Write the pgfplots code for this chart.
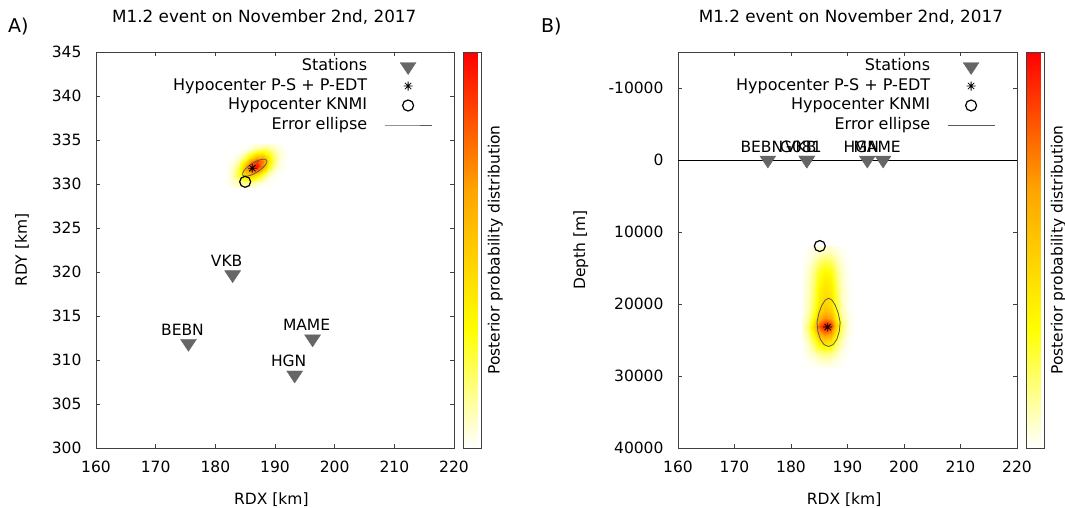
\documentclass[border=0pt]{standalone}
\usepackage{fontspec}
\setmainfont{DejaVu Sans}
\usepackage{pgfplots}
\usepackage{pgfplotstable}
\pgfplotsset{compat=1.18}

\newcommand\fs{\fontsize{15.5pt}{18pt}\selectfont}

% eight-armed asterisk for the hypocentre
\pgfdeclareplotmark{ast8}{%
  \pgfpathmoveto{\pgfqpoint{-\pgfplotmarksize}{0pt}}\pgfpathlineto{\pgfqpoint{\pgfplotmarksize}{0pt}}%
  \pgfpathmoveto{\pgfqpoint{0pt}{-\pgfplotmarksize}}\pgfpathlineto{\pgfqpoint{0pt}{\pgfplotmarksize}}%
  \pgfpathmoveto{\pgfqpoint{-.707\pgfplotmarksize}{-.707\pgfplotmarksize}}\pgfpathlineto{\pgfqpoint{.707\pgfplotmarksize}{.707\pgfplotmarksize}}%
  \pgfpathmoveto{\pgfqpoint{-.707\pgfplotmarksize}{.707\pgfplotmarksize}}\pgfpathlineto{\pgfqpoint{.707\pgfplotmarksize}{-.707\pgfplotmarksize}}%
  \pgfusepathqstroke}

% posterior probability, map view (RDX, RDY, density)
\pgfplotstableread[row sep=\\]{
x y z\\
182 329.6 0.01\\183 329.6 0.02\\184 329.6 0.04\\185 329.6 0.04\\186 329.6 0.03\\187 329.6 0.01\\188 329.6 0\\189 329.6 0\\190 329.6 0\\191 329.6 0\\192 329.6 0\\
182 330.1 0.01\\183 330.1 0.05\\184 330.1 0.10\\185 330.1 0.13\\186 330.1 0.12\\187 330.1 0.06\\188 330.1 0.02\\189 330.1 0.01\\190 330.1 0\\191 330.1 0\\192 330.1 0\\
182 330.6 0.02\\183 330.6 0.07\\184 330.6 0.19\\185 330.6 0.30\\186 330.6 0.31\\187 330.6 0.20\\188 330.6 0.09\\189 330.6 0.02\\190 330.6 0\\191 330.6 0\\192 330.6 0\\
182 331.1 0.02\\183 331.1 0.09\\184 331.1 0.26\\185 331.1 0.49\\186 331.1 0.60\\187 331.1 0.47\\188 331.1 0.23\\189 331.1 0.07\\190 331.1 0.02\\191 331.1 0\\192 331.1 0\\
182 331.6 0.01\\183 331.6 0.07\\184 331.6 0.26\\185 331.6 0.59\\186 331.6 0.86\\187 331.6 0.80\\188 331.6 0.47\\189 331.6 0.18\\190 331.6 0.04\\191 331.6 0.01\\192 331.6 0\\
182 332.1 0.01\\183 332.1 0.05\\184 332.1 0.19\\185 332.1 0.52\\186 332.1 0.90\\187 332.1 0.98\\188 332.1 0.68\\189 332.1 0.30\\190 332.1 0.09\\191 332.1 0.02\\192 332.1 0\\
182 332.6 0\\183 332.6 0.02\\184 332.6 0.10\\185 332.6 0.33\\186 332.6 0.68\\187 332.6 0.88\\188 332.6 0.73\\189 332.6 0.38\\190 332.6 0.13\\191 332.6 0.03\\192 332.6 0\\
182 333.1 0\\183 333.1 0.01\\184 333.1 0.04\\185 333.1 0.16\\186 333.1 0.38\\187 333.1 0.58\\188 333.1 0.57\\189 333.1 0.35\\190 333.1 0.14\\191 333.1 0.04\\192 333.1 0.01\\
182 333.6 0\\183 333.6 0\\184 333.6 0.01\\185 333.6 0.05\\186 333.6 0.15\\187 333.6 0.28\\188 333.6 0.32\\189 333.6 0.24\\190 333.6 0.11\\191 333.6 0.03\\192 333.6 0.01\\
182 334.1 0\\183 334.1 0\\184 334.1 0\\185 334.1 0.01\\186 334.1 0.04\\187 334.1 0.10\\188 334.1 0.13\\189 334.1 0.12\\190 334.1 0.07\\191 334.1 0.02\\192 334.1 0.01\\
182 334.6 0\\183 334.6 0\\184 334.6 0\\185 334.6 0\\186 334.6 0.01\\187 334.6 0.02\\188 334.6 0.04\\189 334.6 0.04\\190 334.6 0.03\\191 334.6 0.01\\192 334.6 0\\
}\mappdf

% posterior probability, depth section (RDX, depth, density)
\pgfplotstableread[row sep=\\]{
x y z\\
182 12000 0\\183 12000 0.01\\184 12000 0.02\\185 12000 0.04\\186 12000 0.05\\187 12000 0.05\\188 12000 0.03\\189 12000 0.01\\190 12000 0\\191 12000 0\\
182 13000 0\\183 13000 0.02\\184 13000 0.05\\185 13000 0.08\\186 13000 0.10\\187 13000 0.09\\188 13000 0.05\\189 13000 0.02\\190 13000 0\\191 13000 0\\
182 14000 0.01\\183 14000 0.03\\184 14000 0.09\\185 14000 0.16\\186 14000 0.20\\187 14000 0.18\\188 14000 0.10\\189 14000 0.03\\190 14000 0.01\\191 14000 0\\
182 15000 0.01\\183 15000 0.05\\184 15000 0.13\\185 15000 0.23\\186 15000 0.28\\187 15000 0.25\\188 15000 0.14\\189 15000 0.05\\190 15000 0.01\\191 15000 0\\
182 16000 0.01\\183 16000 0.06\\184 16000 0.16\\185 16000 0.28\\186 16000 0.34\\187 16000 0.31\\188 16000 0.17\\189 16000 0.06\\190 16000 0.01\\191 16000 0\\
182 17000 0.02\\183 17000 0.06\\184 17000 0.17\\185 17000 0.31\\186 17000 0.38\\187 17000 0.34\\188 17000 0.19\\189 17000 0.06\\190 17000 0.02\\191 17000 0\\
182 18000 0.02\\183 18000 0.07\\184 18000 0.19\\185 18000 0.34\\186 18000 0.41\\187 18000 0.37\\188 18000 0.21\\189 18000 0.07\\190 18000 0.02\\191 18000 0\\
182 19000 0.02\\183 19000 0.07\\184 19000 0.20\\185 19000 0.36\\186 19000 0.44\\187 19000 0.40\\188 19000 0.22\\189 19000 0.07\\190 19000 0.02\\191 19000 0\\
182 20000 0.02\\183 20000 0.08\\184 20000 0.22\\185 20000 0.39\\186 20000 0.48\\187 20000 0.43\\188 20000 0.24\\189 20000 0.08\\190 20000 0.02\\191 20000 0\\
182 21000 0.02\\183 21000 0.09\\184 21000 0.25\\185 21000 0.45\\186 21000 0.55\\187 21000 0.50\\188 21000 0.28\\189 21000 0.09\\190 21000 0.02\\191 21000 0.01\\
182 22000 0.03\\183 22000 0.12\\184 22000 0.32\\185 22000 0.57\\186 22000 0.70\\187 22000 0.63\\188 22000 0.35\\189 22000 0.12\\190 22000 0.03\\191 22000 0.01\\
182 23000 0.04\\183 23000 0.17\\184 23000 0.46\\185 23000 0.82\\186 23000 1.00\\187 23000 0.90\\188 23000 0.50\\189 23000 0.17\\190 23000 0.04\\191 23000 0.01\\
182 24000 0.03\\183 24000 0.13\\184 24000 0.35\\185 24000 0.62\\186 24000 0.75\\187 24000 0.68\\188 24000 0.38\\189 24000 0.13\\190 24000 0.03\\191 24000 0.01\\
182 25000 0.02\\183 25000 0.09\\184 25000 0.23\\185 25000 0.41\\186 25000 0.50\\187 25000 0.45\\188 25000 0.25\\189 25000 0.09\\190 25000 0.02\\191 25000 0\\
182 26000 0.01\\183 26000 0.05\\184 26000 0.15\\185 26000 0.26\\186 26000 0.32\\187 26000 0.29\\188 26000 0.16\\189 26000 0.05\\190 26000 0.01\\191 26000 0\\
182 27000 0.01\\183 27000 0.03\\184 27000 0.07\\185 27000 0.12\\186 27000 0.15\\187 27000 0.14\\188 27000 0.08\\189 27000 0.03\\190 27000 0.01\\191 27000 0\\
182 28000 0\\183 28000 0.01\\184 28000 0.02\\185 28000 0.04\\186 28000 0.05\\187 28000 0.05\\188 28000 0.03\\189 28000 0.01\\190 28000 0\\191 28000 0\\
182 29000 0\\183 29000 0\\184 29000 0\\185 29000 0.01\\186 29000 0.01\\187 29000 0.01\\188 29000 0.01\\189 29000 0\\190 29000 0\\191 29000 0\\
}\depthpdf

\pgfplotstableread{
x y name
175.5 311.9 BEBN
182.9 319.7 VKB
193.3 308.3 HGN
196.3 312.4 MAME
}\stationsmap

\pgfplotstableread{
x y name
175.9 0 BEBN
182.8 0 VKB
182.8 0 G081
193.5 0 HGN
196.3 0 MAME
}\stationsdepth

\pgfplotsset{
  legend image code/.code={%
    \draw[mark repeat=2,mark phase=2,#1] plot coordinates {(0pt,0pt) (23.5pt,0pt) (47pt,0pt)};},
  panel/.style={
    scale only axis, height=396pt,
    xmin=160, xmax=220, xtick={160,170,...,220},
    axis line style={black!75, line width=0.7pt},
    tick style={black!75, line width=0.6pt},
    tick align=inside, major tick length=4pt,
    /pgf/number format/assume math mode=true,
    /pgf/number format/1000 sep={},
    scaled y ticks=false,
    yticklabel style={xshift=-11pt},
    xticklabel style={yshift=-9pt},
    xlabel={RDX [km]},
    title={M1.2 event on November 2nd, 2017},
    colormap={wyor}{rgb255(0)=(255,255,255) rgb255(3)=(255,255,0) rgb255(6.5)=(255,165,0) rgb255(10)=(255,0,0)},
    point meta min=0, point meta max=1,
    colorbar,
    colorbar style={
      scale only axis, width=18pt, height=396pt,
      at={(parent axis.north east)}, anchor=north west, xshift=1pt,
      ytick=\empty, xtick=\empty,
      axis line style={black!75, line width=0.7pt},
      ylabel={Posterior probability distribution},
      ylabel style={at={(axis description cs:1,0.5)}, anchor=north, inner sep=6pt},
    },
    legend cell align=right, legend plot pos=right,
    legend style={draw=none, fill=none, at={(1,1)}, anchor=north east,
      xshift=-22pt, yshift=-6pt, inner sep=0pt, outer sep=0pt,
      font=\fontsize{16pt}{19pt}\selectfont,
      /tikz/column sep=16pt, /tikz/row sep=2.5pt,
      nodes={inner sep=1pt, text height=11.5pt, text depth=3.5pt}},
  },
  stations/.style={only marks, mark=triangle*, mark size=8pt,
    mark options={rotate=180, xscale=1.15, fill=black!60, draw=black!60},
    nodes near coords, point meta=explicit symbolic,
    nodes near coords style={anchor=base, xshift=-6pt, yshift=8pt, inner sep=0pt, text=black}},
  hypo/.style={only marks, mark=ast8, mark size=4.5pt, mark options={black, line width=0.8pt}},
  knmi/.style={only marks, mark=o, mark size=5.5pt, mark options={black, line width=1.2pt}},
  ellipse/.style={black!65, line width=0.8pt, mark=none},
}

\begin{document}
\begin{tikzpicture}[font=\fs]
\useasboundingbox (0,0) rectangle (1065pt,507pt);

\node[anchor=base west, inner sep=0pt, font=\fontsize{19pt}{22pt}\selectfont] at (8pt,474pt) {A)};
\node[anchor=base west, inner sep=0pt, font=\fontsize{19pt}{22pt}\selectfont] at (541pt,474pt) {B)};

% ---------- map view ----------
\begin{axis}[panel, at={(96pt,59pt)}, anchor=south west, width=358pt,
  ymin=300, ymax=345, ytick={300,305,...,345},
  ylabel={RDY [km]},
  ylabel style={at={([xshift=-69pt]axis description cs:0,0.5)}, anchor=base, inner sep=0pt},
  xlabel style={at={([yshift=-56pt]axis description cs:0.49,0)}, anchor=base, inner sep=0pt},
  title style={at={([yshift=24pt]axis description cs:0.47,1)}, anchor=base, inner sep=0pt,
    font=\fontsize{16.8pt}{20pt}\selectfont},
]
\addplot[surf, shader=interp, mesh/cols=11, point meta=explicit, forget plot]
  table[x=x, y=y, meta=z] {\mappdf};
\addplot[stations] table[x=x, y=y, meta=name] {\stationsmap};
\addlegendentry{Stations}
\addplot[hypo] coordinates {(186.2,331.8)};
\addlegendentry{Hypocenter P-S + P-EDT}
\addplot[knmi] coordinates {(185.0,330.25)};
\addlegendentry{Hypocenter KNMI}
\addplot[ellipse] coordinates {
  (188.60,332.70) (188.62,332.45) (188.33,332.11) (187.77,331.73)
  (187.04,331.37) (186.24,331.08) (185.50,330.91) (184.92,330.88)
  (184.60,331.00) (184.58,331.25) (184.87,331.59) (185.43,331.97)
  (186.16,332.33) (186.96,332.62) (187.70,332.79) (188.28,332.82)
  (188.60,332.70)};
\addlegendentry{Error ellipse}
\end{axis}

% ---------- depth section ----------
\begin{axis}[panel, at={(678pt,59pt)}, anchor=south west, width=339pt,
  y dir=reverse, ymin=-15000, ymax=40000,
  ytick={-10000,0,10000,20000,30000,40000},
  ylabel={Depth [m]},
  ylabel style={at={([xshift=-93pt]axis description cs:0,0.5)}, anchor=base, inner sep=0pt},
  xlabel style={at={([yshift=-56pt]axis description cs:0.49,0)}, anchor=base, inner sep=0pt},
  title style={at={([yshift=24pt]axis description cs:0.51,1)}, anchor=base, inner sep=0pt,
    font=\fontsize{16.8pt}{20pt}\selectfont},
]
\addplot[surf, shader=interp, mesh/cols=10, point meta=explicit, forget plot]
  table[x=x, y=y, meta=z] {\depthpdf};
\addplot[black, line width=0.7pt, forget plot] coordinates {(160,0) (220,0)};
\addplot[stations] table[x=x, y=y, meta=name] {\stationsdepth};
\addlegendentry{Stations}
\addplot[hypo] coordinates {(186.5,23200)};
\addlegendentry{Hypocenter P-S + P-EDT}
\addplot[knmi] coordinates {(185.1,11950)};
\addlegendentry{Hypocenter KNMI}
\addplot[ellipse] coordinates {
  (186.65,19200) (187.25,19455) (187.84,20182) (188.36,21267)
  (188.70,22550) (188.54,23833) (188.10,24918) (187.44,25645)
  (186.65,25900) (185.86,25645) (185.20,24918) (184.76,23833)
  (184.60,22550) (184.94,21267) (185.46,20182) (186.05,19455)
  (186.65,19200)};
\addlegendentry{Error ellipse}
\end{axis}
\end{tikzpicture}
\end{document}
